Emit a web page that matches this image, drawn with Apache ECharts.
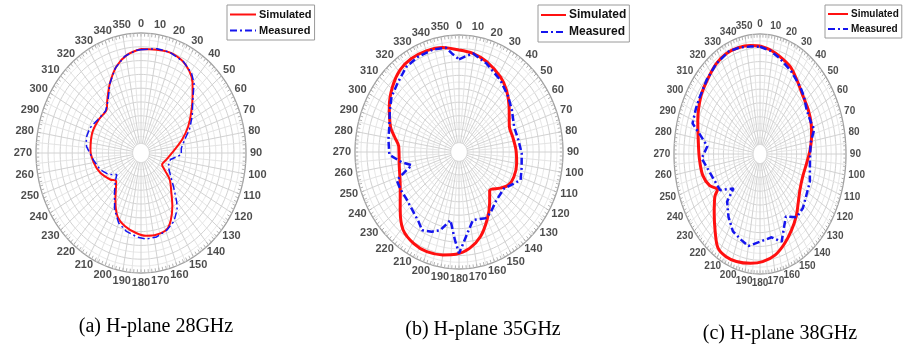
<!DOCTYPE html>
<html><head><meta charset="utf-8">
<script src="https://cdn.jsdelivr.net/npm/echarts@6/dist/echarts.min.js"></script>
<style>html,body{margin:0;padding:0;background:#fff}#c{width:905px;height:351px}</style>
</head><body><div id="c"></div>
<script>
// angle tick labels (degrees, clockwise from top)
const angleTicks = [0,10,20,30,40,50,60,70,80,90,100,110,120,130,140,150,160,170,180,190,200,210,220,230,240,250,260,270,280,290,300,310,320,330,340,350];
const angleLabels = angleTicks.map(String);
const seriesNames = ['Simulated','Measured'];
const captions = ['(a) H-plane 28GHz','(b) H-plane 35GHz','(c) H-plane 38GHz'];

// [angle deg, normalized radius]
const sim28 = [[0,0.867],[16,0.881],[26,0.867],[34,0.823],[40,0.764],[46,0.683],[55,0.583],[64,0.499],[74,0.408],[85,0.322],[103,0.248],[116,0.223],[122,0.265],[129,0.352],[139,0.441],[146,0.534],[153,0.626],[159,0.683],[168,0.697],[176,0.691],[184,0.668],[194,0.629],[203,0.573],[212,0.46],[225,0.334],[233,0.367],[247,0.421],[260,0.457],[273,0.482],[290,0.494],[305,0.489],[318,0.489],[324,0.546],[333,0.652],[342,0.758],[351,0.83]];
const meas28 = [[0,0.861],[10,0.882],[18,0.883],[28,0.862],[36,0.82],[41,0.77],[48,0.664],[58,0.575],[67,0.501],[75,0.43],[84,0.386],[92,0.384],[101,0.286],[113,0.281],[123,0.333],[133,0.427],[140,0.529],[144,0.585],[151,0.649],[159,0.688],[168,0.715],[176,0.719],[183,0.701],[192,0.668],[200,0.621],[208,0.535],[217,0.42],[226,0.34],[232,0.292],[240,0.357],[250,0.411],[263,0.459],[276,0.522],[284,0.537],[293,0.53],[304,0.497],[316,0.486],[324,0.535],[333,0.652],[341,0.749],[349,0.82],[357,0.857]];
const sim35 = [[0,0.872],[9,0.854],[19,0.817],[32,0.755],[41,0.697],[51,0.62],[66,0.53],[76,0.532],[88,0.548],[100,0.563],[112,0.569],[121,0.552],[128,0.502],[138,0.441],[146,0.527],[155,0.639],[164,0.751],[173,0.83],[182,0.875],[190,0.893],[200,0.907],[209,0.896],[219,0.855],[229,0.749],[242,0.64],[258,0.587],[275,0.582],[281,0.626],[288,0.692],[300,0.774],[311,0.848],[321,0.902],[330,0.921],[340,0.92],[350,0.907]];
const meas35 = [[0,0.792],[4,0.817],[9,0.854],[19,0.803],[33,0.731],[45,0.67],[55,0.621],[68,0.572],[80,0.58],[91,0.603],[102,0.616],[112,0.639],[126,0.533],[139,0.547],[150,0.603],[156,0.62],[167,0.597],[172,0.673],[177,0.782],[180,0.866],[183,0.753],[188,0.588],[195,0.691],[201,0.73],[208,0.757],[213,0.712],[221,0.673],[232,0.645],[241,0.647],[248,0.645],[253,0.526],[256,0.468],[261,0.558],[268,0.67],[279,0.687],[288,0.704],[298,0.754],[306,0.802],[315,0.834],[325,0.886],[334,0.904],[344,0.911],[352,0.9],[356,0.837]];
const sim38 = [[0,0.9],[8,0.875],[16,0.844],[26,0.807],[35,0.75],[46,0.695],[57,0.671],[67,0.646],[76,0.618],[87,0.582],[98,0.548],[111,0.531],[123,0.553],[133,0.606],[141,0.669],[150,0.733],[159,0.799],[168,0.859],[178,0.898],[187,0.918],[197,0.937],[205,0.942],[212,0.923],[218,0.843],[227,0.728],[236,0.633],[239,0.577],[246,0.643],[255,0.689],[267,0.706],[279,0.727],[291,0.775],[305,0.839],[315,0.869],[326,0.908],[335,0.924],[344,0.921],[353,0.91]];
const meas38 = [[0,0.894],[8,0.869],[16,0.83],[28,0.778],[40,0.729],[47,0.7],[56,0.655],[66,0.648],[72,0.663],[81,0.596],[95,0.583],[112,0.625],[124,0.643],[132,0.672],[141,0.678],[150,0.601],[158,0.714],[161,0.773],[169,0.707],[180,0.731],[190,0.779],[197,0.748],[206,0.718],[215,0.639],[224,0.55],[227,0.422],[237,0.553],[255,0.603],[267,0.679],[276,0.615],[283,0.716],[288,0.825],[297,0.836],[304,0.846],[315,0.875],[326,0.908],[337,0.929],[345,0.919],[353,0.902]];

const plots = [
  {cx:141, cy:153, rx:105, ry:120, sim:sim28, meas:meas28, lw:2, fs:11, lfs:11, iw:26, digitW:6.1, legendLeft:227, cap:[156,327]},
  {cx:459, cy:152, rx:104, ry:117, sim:sim35, meas:meas35, lw:3, fs:11, lfs:12, iw:25, digitW:6.1, legendLeft:538, cap:[483,330]},
  {cx:760, cy:154, rx:86, ry:120, sim:sim38, meas:meas38, lw:3, fs:10, lfs:10, iw:20, digitW:5.4, legendLeft:825, cap:[780,334]}
];
const FONT = '"Liberation Sans", Arial, sans-serif';

const rad = d => d*Math.PI/180;
const toXY = d => [d[1]*Math.sin(rad(d[0])), d[1]*Math.cos(rad(d[0]))];
const closed = arr => arr.map(toXY).concat([toXY(arr[0])]);

const HOLE = 0.08;
const rings = [];
for (let k=0;k<=16;k++){ rings.push([HOLE + k*(1-HOLE)/16, k%2===0 ? 1 : 0]); }
const spokes = [];
for (let a=0;a<360;a+=5){ spokes.push([a, a%10===0 ? 1 : 0]); }
const ticks = [];
for (let a=0;a<360;a+=2){ ticks.push([a]); }

const grid=[], xAxis=[], yAxis=[], series=[], legend=[], graphic=[];
plots.forEach((p,i)=>{
  grid.push({left:p.cx-p.rx, top:p.cy-p.ry, width:2*p.rx, height:2*p.ry, containLabel:false});
  xAxis.push({gridIndex:i, type:'value', min:-1, max:1, show:false});
  yAxis.push({gridIndex:i, type:'value', min:-1, max:1, show:false});
  series.push({type:'custom', xAxisIndex:i, yAxisIndex:i, silent:true, z:1, clip:false,
    data: rings,
    renderItem:(params, api)=>{
      const r = api.value(0), major = api.value(1);
      const pts=[];
      for(let t=0;t<=360;t+=2){ pts.push(api.coord([r*Math.sin(rad(t)), r*Math.cos(rad(t))])); }
      const outer = r>0.999;
      return {type:'polyline', shape:{points:pts}, style:{stroke: outer ? '#a0a0a0' : (major ? '#d2d2d2' : '#e8e8e8'), fill:null, lineWidth: outer?1.3:1}};
    }});
  series.push({type:'custom', xAxisIndex:i, yAxisIndex:i, silent:true, z:1, clip:false,
    data: spokes,
    renderItem:(params, api)=>{
      const a = api.value(0), major = api.value(1);
      const r0 = major ? HOLE : 0.2;
      const p0 = api.coord([r0*Math.sin(rad(a)), r0*Math.cos(rad(a))]);
      const p1 = api.coord([Math.sin(rad(a)), Math.cos(rad(a))]);
      return {type:'line', shape:{x1:p0[0],y1:p0[1],x2:p1[0],y2:p1[1]}, style:{stroke: major ? '#d2d2d2' : '#e4e4e4', lineWidth:1}};
    }});
  series.push({type:'custom', xAxisIndex:i, yAxisIndex:i, silent:true, z:1, clip:false,
    data: ticks,
    renderItem:(params, api)=>{
      const a = api.value(0);
      const p0 = api.coord([0.97*Math.sin(rad(a)), 0.97*Math.cos(rad(a))]);
      const p1 = api.coord([Math.sin(rad(a)), Math.cos(rad(a))]);
      return {type:'line', shape:{x1:p0[0],y1:p0[1],x2:p1[0],y2:p1[1]}, style:{stroke:'#b4b4b4', lineWidth:1}};
    }});
  series.push({type:'scatter', xAxisIndex:i, yAxisIndex:i, silent:true, z:3, clip:false, symbolSize:0,
    data: angleTicks.map((a,k)=>{
      const s=Math.sin(rad(a)), c=Math.cos(rad(a));
      const w = angleLabels[k].length*p.digitW, h=11, gap=4;
      const m = Math.max(Math.abs(s),Math.abs(c));
      return {value:[s,c], label:{offset:[s*(gap + w/2*Math.abs(s)/m), -c*(gap + h/2*Math.abs(c)/m)]}};
    }),
    label:{show:true, position:'inside', align:'center', verticalAlign:'middle',
      formatter: prm => angleLabels[prm.dataIndex],
      fontFamily:FONT, fontWeight:'bold', fontSize:p.fs, color:'#1e1e1e'}});
  series.push({type:'line', name:seriesNames[0], xAxisIndex:i, yAxisIndex:i, z:5, symbol:'none', smooth:0.3, clip:false,
    data: closed(p.sim), lineStyle:{color:'#ff1010', width:p.lw}, itemStyle:{color:'#ff1010'}});
  series.push({type:'line', name:seriesNames[1], xAxisIndex:i, yAxisIndex:i, z:6, symbol:'none', clip:false,
    data: closed(p.meas), lineStyle:{color:'#1515ee', width:p.lw-0.5, type:[7,3,2,3]}, itemStyle:{color:'#1515ee'}});
  legend.push({left:p.legendLeft, top:5, orient:'vertical', itemWidth:p.iw, itemHeight:10, itemGap:5,
    padding:[4,3,4,2], borderColor:'#9a9a9a', borderWidth:1, backgroundColor:'#fff', selectedMode:false,
    itemStyle:{opacity:0, borderWidth:0},
    data:seriesNames, textStyle:{fontFamily:FONT, fontWeight:'bold', fontSize:p.lfs, color:'#111', padding:[0,0,0,-2]}});
  graphic.push({type:'text', x:p.cap[0], y:p.cap[1], style:{text:captions[i], font:'20px "Liberation Serif", "Times New Roman", serif', fill:'#000', align:'center', verticalAlign:'middle', textAlign:'center', textVerticalAlign:'middle'}});
});

const chart = echarts.init(document.getElementById('c'), null, {renderer:'canvas'});
chart.setOption({animation:false, backgroundColor:'#fff', grid, xAxis, yAxis, series, legend, graphic});
</script></body></html>
